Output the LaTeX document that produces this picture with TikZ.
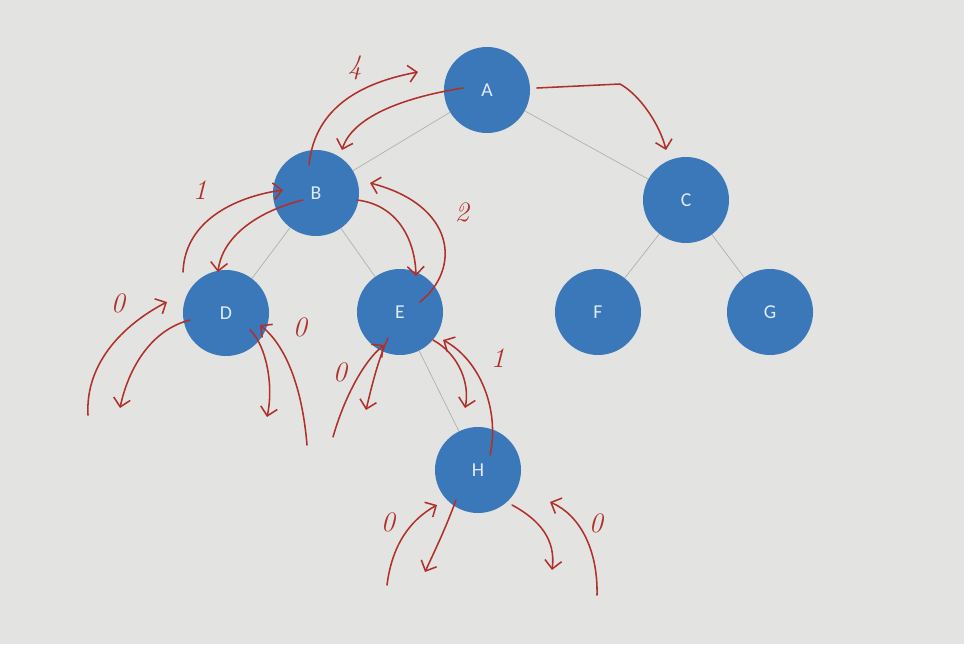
\documentclass[tikz,border=0pt]{standalone}
\usepackage{fontspec}
\newfontfamily\keyfont{Carlito}
\usetikzlibrary{calc,arrows.meta}
\definecolor{screen}{HTML}{E3E4E1}
\definecolor{treeblue}{HTML}{3B78B9}
\definecolor{linkgray}{HTML}{AEB2AC}
\definecolor{ink}{HTML}{B0302B}

\begin{document}
\begin{tikzpicture}[x=0.025cm, y=-0.025cm,
  vertex/.style={circle, fill=treeblue, minimum size=2.15cm, inner sep=0pt,
    text=white!85!treeblue, font=\keyfont\fontsize{14}{16}\selectfont},
  link/.style={draw=linkgray, line width=0.5pt},
  pen/.style={draw=ink, line width=1.1pt, line cap=round, line join=round,
    -{Straight Barb[length=6pt,width=12pt]}},
  count/.style={text=ink, font=\itshape\fontsize{20}{22}\selectfont}]
\fill[screen] (0,0) rectangle (964,644);
\useasboundingbox (0,0) rectangle (964,644);

% tree
\node (A) [vertex] at (487,90) {A};
\node (B) [vertex] at (316,193) {B};
\node (C) [vertex] at (686,200) {C};
\node (D) [vertex] at (226,313) {D};
\node (E) [vertex] at (400,312) {E};
\node (F) [vertex] at (598,312) {F};
\node (G) [vertex] at (770,312) {G};
\node (H) [vertex] at (478,470) {H};
\draw[link] (A) -- (B);
\draw[link] (A) -- (C);
\draw[link] (B) -- (D);
\draw[link] (B) -- (E);
\draw[link] (C) -- (F);
\draw[link] (C) -- (G);
\draw[link] (E) -- (H);

% free ends of the hand-drawn arrows
\coordinate (up4) at (418,72);
\coordinate (dl) at (120,408);
\coordinate (dlr) at (88,415);
\coordinate (dr) at (267,417);
\coordinate (drr) at (307,445);
\coordinate (el) at (366,410);
\coordinate (elr) at (333,437);
\coordinate (er) at (465,408);
\coordinate (hl) at (425,572);
\coordinate (hlr) at (387,585);
\coordinate (hr) at (552,570);
\coordinate (hrr) at (597,595);

% red traversal marks
\draw[pen] ($(A)+(-24,-2)$) .. controls (400,98) and (352,118) .. ($(B)+(26,-43)$);
\draw[pen] ($(B)+(-7,-28)$) .. controls (315,105) and (365,82) .. (up4);
\draw[pen] ($(A)+(50,-2)$) -- (620,84) .. controls (640,95) and (660,125) .. ($(C)+(-20,-50)$);
\draw[pen] ($(B)+(-13,7)$) .. controls (255,212) and (222,238) .. ($(D)+(-8,-41)$);
\draw[pen] ($(D)+(-43,-41)$) .. controls (185,218) and (240,196) .. ($(B)+(-33,-3)$);
\draw[pen] ($(B)+(41,7)$) .. controls (398,205) and (415,240) .. ($(E)+(16,-36)$);
\draw[pen] ($(E)+(20,-10)$) .. controls (462,268) and (455,205) .. ($(B)+(54,-10)$);
\draw[pen] ($(D)+(-36,7)$) .. controls (150,330) and (128,370) .. (dl);
\draw[pen] (dlr) .. controls (85,360) and (128,322) .. ($(D)+(-59,-11)$);
\draw[pen] ($(D)+(24,17)$) .. controls (266,345) and (274,385) .. (dr);
\draw[pen] (drr) .. controls (302,385) and (285,345) .. ($(D)+(34,12)$);
\draw[pen] ($(E)+(-12,26)$) .. controls (378,360) and (372,385) .. (el);
\draw[pen] (elr) .. controls (345,395) and (365,360) .. ($(E)+(-16,33)$);
\draw[pen] ($(E)+(33,28)$) .. controls (460,355) and (470,385) .. (er);
\draw[pen] ($(H)+(12,-15)$) .. controls (500,410) and (480,360) .. ($(E)+(43,28)$);
\draw[pen] ($(H)+(-22,30)$) .. controls (445,530) and (435,550) .. (hl);
\draw[pen] (hlr) .. controls (392,545) and (410,520) .. ($(H)+(-41,35)$);
\draw[pen] ($(H)+(34,35)$) .. controls (540,520) and (556,540) .. (hr);
\draw[pen] (hrr) .. controls (598,550) and (580,515) .. ($(H)+(72,32)$);

% counts
\node (n4) [count] at (355,68) {4};
\node (n1) [count] at (200,190) {1};
\node (n2) [count] at (462,212) {2};
\node (nD1) [count] at (118,303) {0};
\node (nD2) [count] at (300,327) {0};
\node (nE1) [count] at (340,372) {0};
\node (nE2) [count] at (498,358) {1};
\node (nH1) [count] at (388,522) {0};
\node (nH2) [count] at (596,523) {0};
\end{tikzpicture}
\end{document}
